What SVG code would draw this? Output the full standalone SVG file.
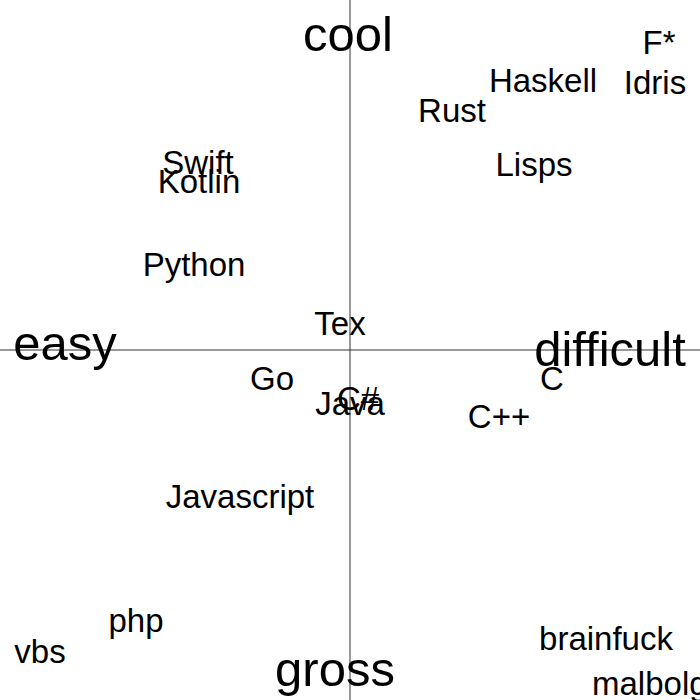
<svg xmlns="http://www.w3.org/2000/svg" width="700" height="700" viewBox="0 0 700 700">
<style>
text{font-family:"Liberation Sans",Arial,sans-serif;fill:#000;text-anchor:middle}
.a{font-size:49px}
.l{font-size:33px}
line{stroke:#333;stroke-width:1}
</style>
<rect width="700" height="700" fill="#fff"/>
<g id="axes"><line x1="350" y1="0" x2="350" y2="700"/><line x1="0" y1="350" x2="700" y2="350"/></g>
<g id="axis-labels">
<text class="a" x="348" y="51">cool</text>
<text class="a" x="65" y="360">easy</text>
<text class="a" x="610" y="366">difficult</text>
<text class="a" x="335" y="686">gross</text>
</g>
<g id="langs">
<text class="l" x="659" y="54">F*</text>
<text class="l" x="655" y="94">Idris</text>
<text class="l" x="543" y="92">Haskell</text>
<text class="l" x="452" y="122">Rust</text>
<text class="l" x="534" y="176">Lisps</text>
<text class="l" x="198" y="174">Swift</text>
<text class="l" x="199" y="193">Kotlin</text>
<text class="l" x="194" y="276">Python</text>
<text class="l" x="340" y="335">Tex</text>
<text class="l" x="272" y="390">Go</text>
<text class="l" x="358" y="410">C#</text>
<text class="l" x="350" y="415">Java</text>
<text class="l" x="552" y="390">C</text>
<text class="l" x="499" y="428">C++</text>
<text class="l" x="240" y="508">Javascript</text>
<text class="l" x="136" y="632">php</text>
<text class="l" x="40" y="663">vbs</text>
<text class="l" x="606" y="650">brainfuck</text>
<text class="l" x="659" y="695">malbolge</text>
</g>
</svg>
